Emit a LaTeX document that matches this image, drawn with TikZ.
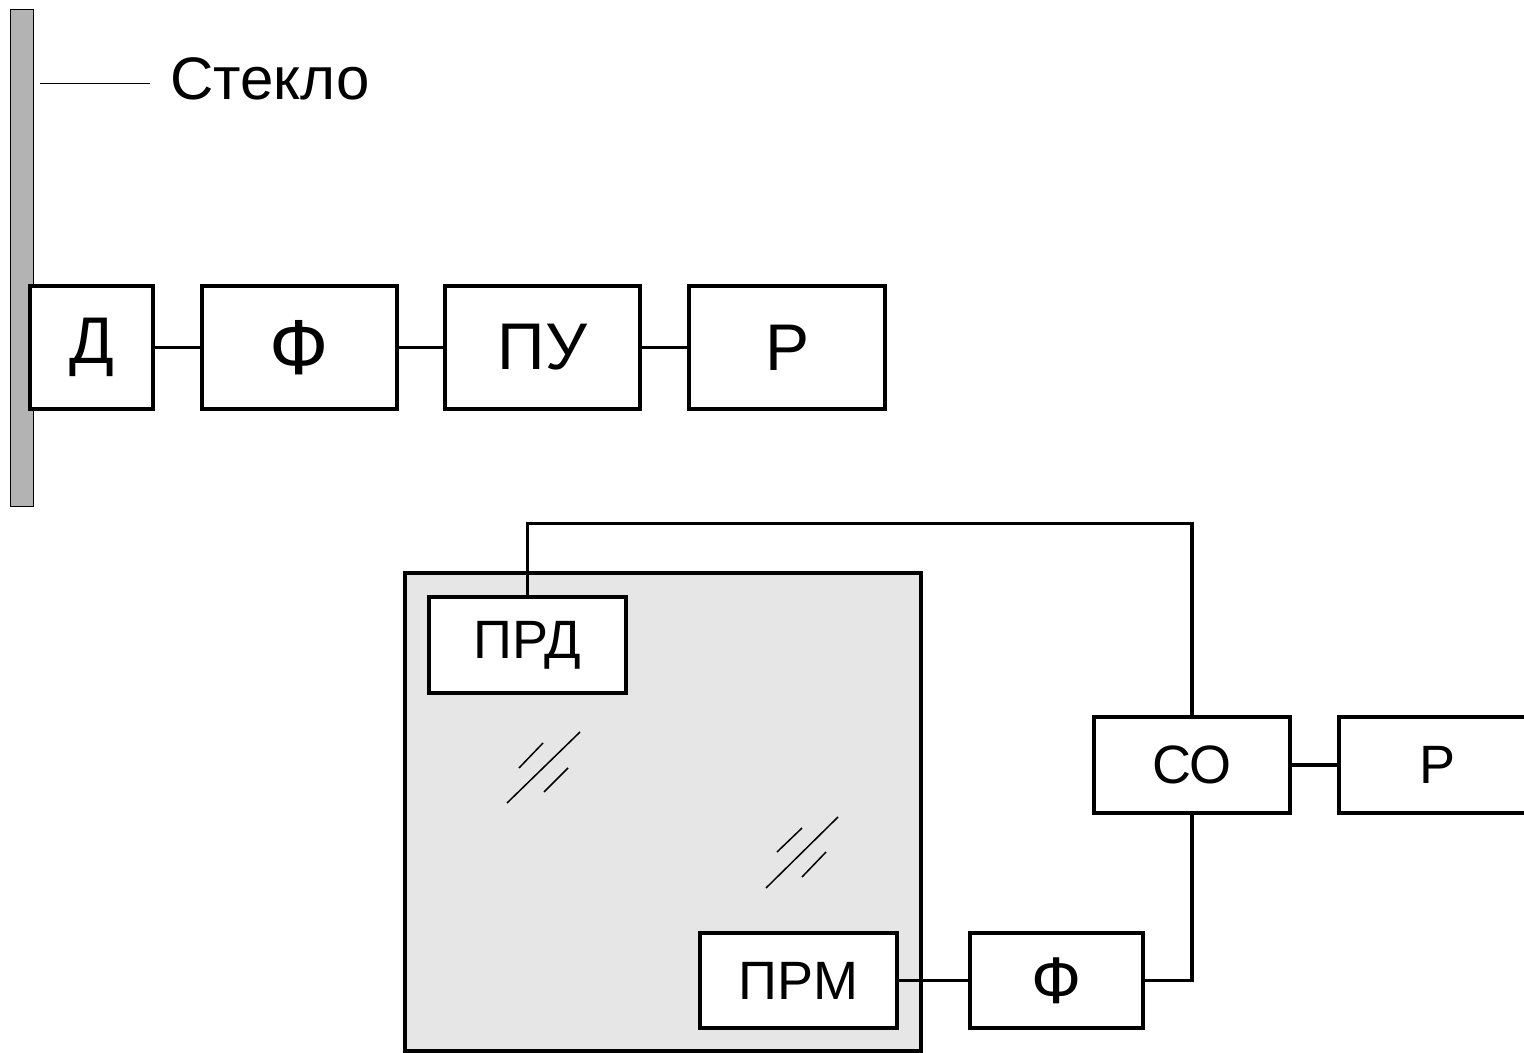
\documentclass[tikz,border=0pt]{standalone}
\usepackage{fontspec}
\setmainfont{Liberation Sans}
\definecolor{glassgray}{HTML}{B3B3B3}
\definecolor{panelgray}{HTML}{E6E6E6}
\begin{document}
\begin{tikzpicture}[x=0.5pt,y=-0.5pt,
  blk/.style={draw,line width=1.6pt,fill=white,inner sep=0pt,font=\fontsize{33}{33}\selectfont},
  sblk/.style={draw,line width=1.6pt,fill=white,inner sep=0pt,font=\fontsize{27}{27}\selectfont},
  wire/.style={line width=1.6pt},
  hatch/.style={line width=0.75pt}]
\clip (0,0) rectangle (1524,1053);
% glass bar
\node[draw,line width=0.5pt,fill=glassgray,minimum width=11.5pt,minimum height=248pt,inner sep=0pt] (glass) at (21.5,258) {};
\coordinate (lead) at (40,84);
\node[anchor=west,inner xsep=10pt,inner ysep=0pt,font=\fontsize{30}{30}\selectfont] (lbl) at (150,79) {Стекло};
\draw[line width=0.5pt] (lead) -- (lead -| lbl.west);
% top chain
\node[blk,minimum width=61.5pt,minimum height=61.5pt] (d) at (91.5,347.5) {Д};
\node[blk,minimum width=97.5pt,minimum height=61.5pt,font=\fontsize{39}{39}\selectfont] (f1) at (299.5,347.5) {Ф};
\node[blk,minimum width=97.5pt,minimum height=61.5pt] (pu) at (542.5,347.5) {ПУ};
\node[blk,minimum width=98pt,minimum height=61.5pt] (r1) at (787,347.5) {Р};
\draw[wire] (d) -- (f1);
\draw[wire] (f1) -- (pu);
\draw[wire] (pu) -- (r1);
% panel
\node[draw,line width=1.6pt,fill=panelgray,minimum width=258pt,minimum height=239pt,inner sep=0pt] (panel) at (663,812) {};
% hatches
\draw[hatch] (507,803) -- (580,732);
\draw[hatch] (519,768) -- (543,743);
\draw[hatch] (544,792) -- (568,768);
\draw[hatch] (766,888) -- (838,817);
\draw[hatch] (777,852) -- (802,828);
\draw[hatch] (802,877) -- (826,852);
% bottom blocks
\node[sblk,minimum width=98.5pt,minimum height=48pt] (prd) at (527.5,645) {ПРД};
\node[sblk,minimum width=98pt,minimum height=48pt] (co) at (1192,765) {СО};
\node[sblk,minimum width=98pt,minimum height=48pt] (r2) at (1437,765) {Р};
\node[sblk,minimum width=98.5pt,minimum height=47.5pt] (prm) at (798.5,980.5) {ПРМ};
\node[sblk,minimum width=86.5pt,minimum height=47.5pt,font=\fontsize{33}{33}\selectfont] (f2) at (1056.5,980.5) {Ф};
\draw[wire] (prd.north) -- ++(0,-72) -| (co.north);
\draw[wire] (f2.east) -| (co.south);
\draw[wire] (prm) -- (f2);
\draw[wire] (co) -- (r2);
\end{tikzpicture}
\end{document}
